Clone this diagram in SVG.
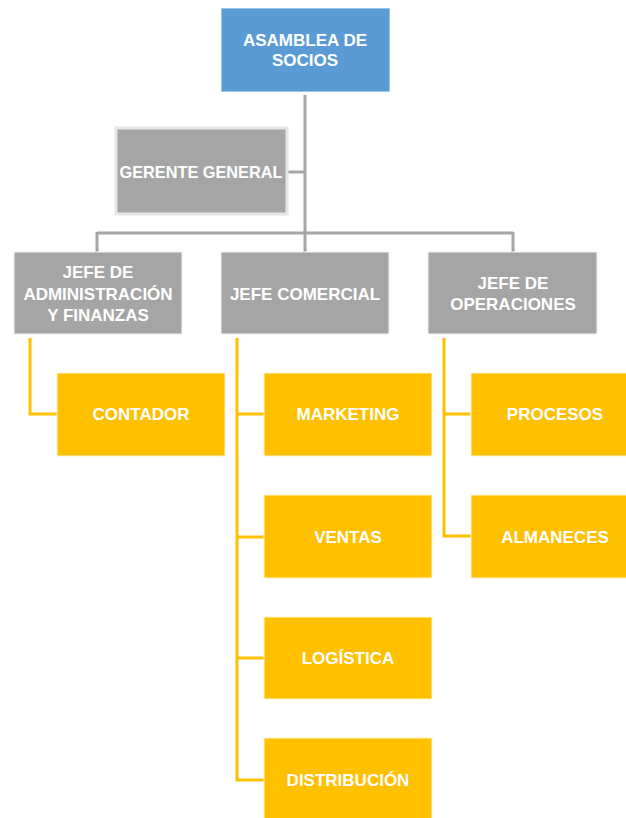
<svg xmlns="http://www.w3.org/2000/svg" width="626" height="818" viewBox="0 0 626 818">
<style>
.t{font-family:"Liberation Sans",Arial,sans-serif;font-weight:bold;font-size:17px;fill:#fff;text-anchor:middle;dominant-baseline:central}
.g{fill:#A5A5A5;stroke:#f2f2f2;stroke-width:1}
.y{fill:#FFC000;stroke:#fff3d0;stroke-width:1}
.cg{stroke:#A5A5A5;stroke-width:3;fill:none}
.cy{stroke:#FFC000;stroke-width:3;fill:none}
</style>
<rect width="626" height="818" fill="#fff"/>
<g id="connectors">
<path class="cg" d="M305 95V252M287 172H305M97 233H513M97 232V252M513 232V252"/>
<path class="cy" d="M30 338V414H57"/>
<path class="cy" d="M237 338V780H264M237 414H264M237 537H264M237 658H264"/>
<path class="cy" d="M444 338V536H471M444 414H471"/>
</g>
<g id="asamblea"><rect x="221.5" y="8.5" width="168" height="83" fill="#5B9BD5" stroke="#9dc3e6" stroke-width="1"/><text class="t" x="305" y="40">ASAMBLEA DE</text><text class="t" x="305" y="60">SOCIOS</text></g>
<g id="gerente"><rect x="116" y="128" width="171" height="86" fill="#A5A5A5" stroke="#e6e6e6" stroke-width="3"/><text class="t" x="201" y="172" textLength="163" lengthAdjust="spacingAndGlyphs">GERENTE GENERAL</text></g>
<g id="admin"><rect class="g" x="14" y="252" width="168" height="82"/><text class="t" x="98" y="272">JEFE DE</text><text class="t" x="98" y="294">ADMINISTRACIÓN</text><text class="t" x="98" y="315">Y FINANZAS</text></g>
<g id="comercial"><rect class="g" x="221" y="252" width="168" height="82"/><text class="t" x="305" y="294">JEFE COMERCIAL</text></g>
<g id="operaciones"><rect class="g" x="428" y="252" width="169" height="82"/><text class="t" x="513" y="283">JEFE DE</text><text class="t" x="513" y="304">OPERACIONES</text></g>
<g id="contador"><rect class="y" x="57" y="373" width="168" height="83"/><text class="t" x="141" y="414">CONTADOR</text></g>
<g id="marketing"><rect class="y" x="264" y="373" width="168" height="83"/><text class="t" x="348" y="414">MARKETING</text></g>
<g id="ventas"><rect class="y" x="264" y="495" width="168" height="83"/><text class="t" x="348" y="537">VENTAS</text></g>
<g id="logistica"><rect class="y" x="264" y="617" width="168" height="82"/><text class="t" x="348" y="658">LOGÍSTICA</text></g>
<g id="distribucion"><rect class="y" x="264" y="738" width="168" height="82"/><text class="t" x="348" y="780">DISTRIBUCIÓN</text></g>
<g id="procesos"><rect class="y" x="471" y="373" width="168" height="83"/><text class="t" x="555" y="414">PROCESOS</text></g>
<g id="almaneces"><rect class="y" x="471" y="495" width="168" height="83"/><text class="t" x="555" y="537">ALMANECES</text></g>
</svg>
